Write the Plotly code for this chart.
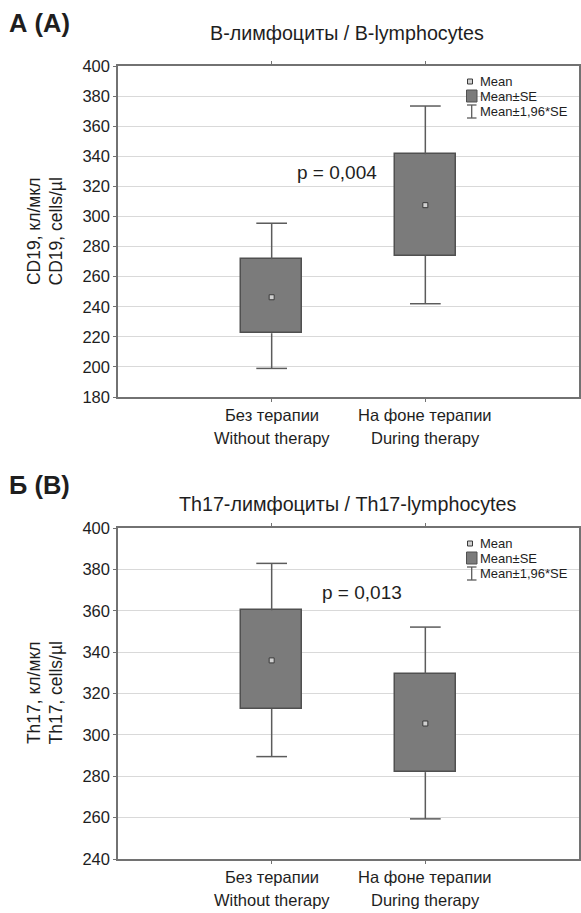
import plotly.graph_objects as go

# ---------------- data ----------------
cat_ru = ["Без терапии", "На фоне терапии"]
cat_en = ["Without therapy", "During therapy"]
cat_pos = [1, 2]

# Panel A: CD19 (B-lymphocytes)
mean_a = [246.3, 307.5]
se_lo_a = [222.4, 274.0]
se_hi_a = [271.6, 341.3]
ci_lo_a = [199.0, 242.0]
ci_hi_a = [295.5, 373.4]
yticks_a = [180, 200, 220, 240, 260, 280, 300, 320, 340, 360, 380, 400]

# Panel B: Th17
mean_b = [336.0, 305.5]
se_lo_b = [312.5, 282.0]
se_hi_b = [360.2, 329.4]
ci_lo_b = [289.5, 259.4]
ci_hi_b = [382.9, 352.1]
yticks_b = [240, 260, 280, 300, 320, 340, 360, 380, 400]

p_a = "p = 0,004"
p_b = "p = 0,013"

# ---------------- style ----------------
W, H = 581, 913
FONT = "Liberation Sans, Arial, sans-serif"
TXT = "#1e1e1e"
BOX_FILL = "#7b7b7b"
BOX_LINE = "#505050"
WHISK = "#5c5c5c"
AXIS = "#727272"
GRID = "#d9d9d9"
CAP = 0.1  # half cap width in category units
BOXW = 0.4


def px(x):
    return x / W


def py(y):
    return 1 - y / H


fig = go.Figure()


def add_panel(xa, ya, mean, se_lo, se_hi, ci_lo, ci_hi):
    fig.add_trace(go.Bar(
        x=cat_pos, y=[h - l for h, l in zip(se_hi, se_lo)], base=se_lo,
        width=BOXW, marker=dict(color=BOX_FILL, line=dict(color=BOX_LINE, width=1.5)),
        xaxis=xa, yaxis=ya, showlegend=False, hoverinfo="skip"))
    wx, wy = [], []
    for c, sl, sh, cl, ch in zip(cat_pos, se_lo, se_hi, ci_lo, ci_hi):
        wx += [c, c, None, c - CAP, c + CAP, None, c, c, None, c - CAP, c + CAP, None]
        wy += [sh, ch, None, ch, ch, None, sl, cl, None, cl, cl, None]
    fig.add_trace(go.Scatter(x=wx, y=wy, mode="lines", line=dict(color=WHISK, width=1.5),
                             xaxis=xa, yaxis=ya, showlegend=False, hoverinfo="skip"))
    fig.add_trace(go.Scatter(x=cat_pos, y=mean, mode="markers",
                             marker=dict(symbol="square", size=5, color="#d0d0d0",
                                         line=dict(color="#3a3a3a", width=1)),
                             xaxis=xa, yaxis=ya, showlegend=False))


add_panel("x", "y", mean_a, se_lo_a, se_hi_a, ci_lo_a, ci_hi_a)
add_panel("x2", "y2", mean_b, se_lo_b, se_hi_b, ci_lo_b, ci_hi_b)

# plot area pixel geometry
XL, XR = 118, 579
TA, BA = 66, 397
TB, BB = 528, 859

xcommon = dict(range=[0, 3], tickvals=cat_pos, showticklabels=False, showgrid=False,
               zeroline=False, showline=True, linecolor=AXIS, linewidth=1.5, mirror="ticks",
               ticks="outside", ticklen=3, tickcolor=AXIS, automargin=False,
               domain=[px(XL), px(XR)])
ycommon = dict(dtick=20, showgrid=True, gridcolor=GRID, gridwidth=1, zeroline=False,
               showline=True, linecolor=AXIS, linewidth=1.5, mirror="ticks", ticks="outside",
               ticklen=3, tickcolor=AXIS, automargin=False,
               tickfont=dict(family=FONT, size=16.5, color=TXT))

fig.update_layout(
    width=W, height=H, margin=dict(l=0, r=0, t=0, b=0, autoexpand=False),
    paper_bgcolor="white", plot_bgcolor="white", showlegend=False, bargap=0,
    xaxis=dict(**xcommon, anchor="y"),
    yaxis=dict(**ycommon, range=[180, 400], tickvals=yticks_a, anchor="x",
               domain=[py(BA), py(TA)]),
    xaxis2=dict(**xcommon, anchor="y2"),
    yaxis2=dict(**ycommon, range=[240, 400], tickvals=yticks_b, anchor="x2",
                domain=[py(BB), py(TB)]),
)

ann = []
shapes = []


def txt(x, y, s, size, bold=False, xanchor="center", bg=None, angle=0):
    a = dict(x=px(x), y=py(y), xref="paper", yref="paper", text=f"<b>{s}</b>" if bold else s,
             showarrow=False, xanchor=xanchor, yanchor="middle", textangle=angle,
             font=dict(family=FONT, size=size, color=TXT))
    if bg:
        a["bgcolor"] = bg
    ann.append(a)


def cat_labels(xref, axis_y):
    for c, r, e in zip(cat_pos, cat_ru, cat_en):
        for s, dy in ((r, 18), (e, 41)):
            ann.append(dict(x=c, xref=xref, y=py(axis_y + dy), yref="paper", text=s,
                            showarrow=False, xanchor="center", yanchor="middle",
                            font=dict(family=FONT, size=16.5, color=TXT)))


def rect(x0, y0, x1, y1, fill, line, lw=1):
    shapes.append(dict(type="rect", xref="paper", yref="paper", x0=px(x0), x1=px(x1),
                       y0=py(y1), y1=py(y0), fillcolor=fill, line=dict(color=line, width=lw)))


def seg(x0, y0, x1, y1, color, lw=1.3):
    shapes.append(dict(type="line", xref="paper", yref="paper", x0=px(x0), x1=px(x1),
                       y0=py(y0), y1=py(y1), line=dict(color=color, width=lw)))


def legend(T):
    rect(467.5, T + 13, 472.5, T + 18, "#d0d0d0", "#3a3a3a", 1)
    txt(478, T + 15.5, "Mean", 13, xanchor="left")
    rect(466.5, T + 24, 477, T + 36, BOX_FILL, BOX_LINE, 1)
    txt(478, T + 30, "Mean±SE", 13, xanchor="left")
    seg(471.7, T + 39, 471.7, T + 52, WHISK)
    seg(467, T + 39, 476.5, T + 39, WHISK)
    seg(467, T + 52, 476.5, T + 52, WHISK)
    txt(478, T + 45.5, "Mean±1,96*SE", 13, xanchor="left")


# Panel A texts
txt(7, 23, "А (A)", 25.5, bold=True, xanchor="left")
txt(347, 33, "B-лимфоциты / B-lymphocytes", 19.7)
txt(45, (TA + BA) / 2, "CD19, кл/мкл<br>CD19, cells/µl", 17.5, angle=-90)
txt(337, 173, p_a, 19, bg="white")
cat_labels("x", BA)
legend(TA)

# Panel B texts
txt(7, 485, "Б (B)", 25.5, bold=True, xanchor="left")
txt(347, 504, "Th17-лимфоциты / Th17-lymphocytes", 19.7)
txt(45, (TB + BB) / 2, "Th17, кл/мкл<br>Th17, cells/µl", 17.5, angle=-90)
txt(362, 592, p_b, 19, bg="white")
cat_labels("x2", BB)
legend(TB)

fig.update_layout(annotations=ann, shapes=shapes)
fig.write_html("out.html", config={"displayModeBar": False},
               post_script="document.body.style.margin='0px';")
